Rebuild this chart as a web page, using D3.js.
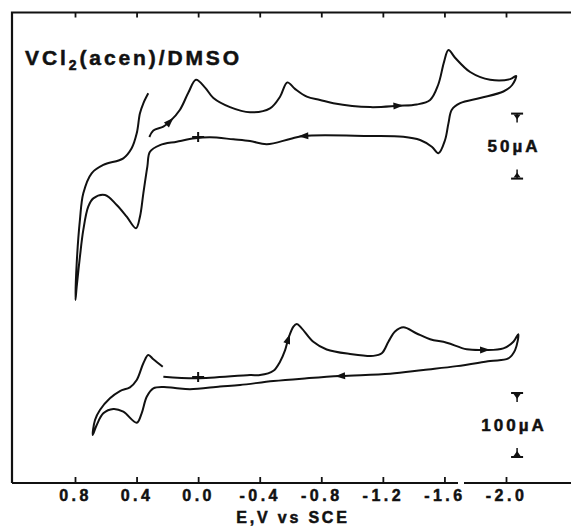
<!DOCTYPE html>
<html>
<head>
<meta charset="utf-8">
<script src="https://cdnjs.cloudflare.com/ajax/libs/d3/7.8.5/d3.min.js"></script>
<style>
body{margin:0;background:#fff;}
text{font-family:"Liberation Sans",Arial,sans-serif;font-weight:bold;fill:#111;stroke:#111;stroke-width:0.5px;}
</style>
</head>
<body>
<div id="chart"></div>
<script>
var tickValues=[0.8,0.4,0.0,-0.4,-0.8,-1.2,-1.6,-2.0];
var tickLabels=["0.8","0.4","0.0","-0.4","-0.8","-1.2","-1.6","-2.0"];

// upper voltammogram (50 uA scale): E in V vs SCE, I in uA
var topE=[0.317,0.291,0.226,0.183,0.118,0.064,0.014,-0.045,-0.099,-0.207,-0.337,-0.467,-0.532,-0.579,-0.629,-0.706,-0.792,-0.878,-1.117,-1.301,-1.420,-1.507,-1.559,-1.598,-1.626,-1.669,-1.767,-1.897,-2.027,-2.066,
  -2.040,-1.983,-1.832,-1.702,-1.648,-1.626,-1.604,-1.561,-1.518,-1.442,-1.333,-1.117,-0.683,-0.597,-0.446,-0.337,-0.229,-0.077,0.020,0.139,0.248,0.313,0.330,0.356,0.378,0.404,0.464,0.529,0.605,0.681,0.714,0.746,0.768,0.789,0.797,
  0.789,0.768,0.746,0.692,0.616,0.486,0.432,0.399,0.378,0.356,0.324];
var topI=[0,5,8,12,21,34,44,38,30,23,19,22,31,42,37,31,28.5,26,23,24,25,28.5,40,58,67,61,50,44,44.5,47,
  40,35,30,26,21,10.5,-2.3,-12.5,-7.5,-2.3,0.2,0.8,0.8,-1.5,-5.6,-3.1,-1.8,-0.2,-1,-3.6,-6.2,-11.3,-22.8,-43.3,-61.3,-70.2,-61.3,-52.3,-44.6,-47.2,-53.6,-71.5,-92.1,-115.2,-125.4,
  -97.2,-63.8,-43.3,-27.9,-21.5,-16.4,-8.7,2.8,18.2,25.9,33.6];
var topArrows=[3,19,42];

// lower voltammogram (100 uA scale)
var botE=[0.226,0.009,-0.337,-0.402,-0.489,-0.532,-0.565,-0.586,-0.619,-0.641,-0.673,-0.748,-0.835,-0.987,-1.138,-1.193,-1.236,-1.279,-1.333,-1.420,-1.507,-1.615,-1.745,-1.864,-1.983,-2.048,-2.080,
  -2.059,-2.015,-1.897,-1.680,-1.463,-1.247,-0.922,-0.706,-0.489,-0.272,-0.142,0.053,0.150,0.226,0.291,0.334,0.367,0.399,0.486,0.551,0.616,0.659,0.685,
  0.670,0.638,0.573,0.508,0.443,0.399,0.356,0.324,0.291,0.230];
var botI=[0.5,-2,3,3,9.8,24,42,60,78.6,82.8,76,55,43,36,33,37,55,71,77.7,68,59,53.6,43.3,42.2,44.8,55,67,
  42,29,25,17,11,5,1.6,-2,-6.3,-12.5,-15,-19,-17,-15.5,-17.7,-30.8,-56.7,-71.4,-54.2,-50,-56.7,-75,-90.6,
  -67.2,-51.6,-33.3,-21.9,-16.1,-4.7,21.4,34.4,27.7,16];
var botArrows=[7,23,33];

// current scale bars (uA) and their potential position
var topBar=[18,-32], botBar=[-25,-125];
var barE=-2.072;

var W=571,H=528;
var svg=d3.select("#chart").append("svg").attr("width",W).attr("height",H);
svg.append("rect").attr("width",W).attr("height",H).attr("fill","#fff");

var x=d3.scaleLinear().domain([0.8,-2.0]).range([75,506]);
var yTop=d3.scaleLinear().domain([0,50]).range([137,72]);
var yBot=d3.scaleLinear().domain([0,100]).range([377,313]);

// frame
var frame=svg.append("g").attr("stroke","#111").attr("stroke-width",2.2).attr("fill","none");
frame.append("path").attr("d","M12,483V12.5H571");
frame.append("path").attr("d","M12,483H458M464,483H571");

var topAxis=d3.axisTop(x).tickValues(tickValues).tickSize(-5).tickFormat("");
svg.append("g").attr("transform","translate(0,12.5)").call(topAxis)
  .call(function(g){g.select(".domain").remove();g.selectAll("line").attr("stroke","#111").attr("stroke-width",1.8);});

var botAxis=d3.axisBottom(x).tickValues(tickValues).tickSize(-6).tickPadding(7)
  .tickFormat(function(d,i){return tickLabels[i];});
svg.append("g").attr("transform","translate(0,483)").call(botAxis)
  .call(function(g){
    g.select(".domain").remove();
    g.selectAll("line").attr("stroke","#111").attr("stroke-width",1.8);
    g.selectAll("text").attr("font-size",16).attr("font-family","Liberation Sans, Arial, sans-serif")
      .attr("font-weight","bold").attr("fill","#111").style("letter-spacing","3.5px");
  });

svg.append("text").attr("x",293).attr("y",523).attr("text-anchor","middle").attr("font-size",16)
  .style("letter-spacing","2.8px").text("E,V vs SCE");

var title=svg.append("text").attr("x",25).attr("y",65).attr("font-size",21).style("letter-spacing","2.9px");
title.append("tspan").text("VCl");
title.append("tspan").attr("font-size",14).attr("dy",5).text("2");
title.append("tspan").attr("dy",-5).text("(acen)/DMSO");

function drawTrace(E,I,y,arrows){
  var pts=E.map(function(e,i){return [x(e),y(I[i])];});
  var line=d3.line().curve(d3.curveCatmullRom.alpha(0.5));
  svg.append("path").attr("d",line(pts)).attr("fill","none")
    .attr("stroke","#111").attr("stroke-width",2).attr("stroke-linejoin","round");
  arrows.forEach(function(k){
    var a=pts[k-1],b=pts[k+1];
    var ang=Math.atan2(b[1]-a[1],b[0]-a[0])*180/Math.PI;
    svg.append("path").attr("d","M5,0L-5,-3.5L-5,3.5Z").attr("fill","#111")
      .attr("transform","translate("+pts[k][0]+","+pts[k][1]+") rotate("+ang+")");
  });
  // zero-current mark at 0.0 V
  svg.append("path").attr("d","M"+(x(0)-6)+","+y(0)+"h12M"+x(0)+","+(y(0)-5)+"v10")
    .attr("stroke","#111").attr("stroke-width",2);
}
drawTrace(topE,topI,yTop,topArrows);
drawTrace(botE,botI,yBot,botArrows);

function scaleBar(bar,y,label){
  var bx=x(barE),y1=y(bar[0]),y2=y(bar[1]);
  var g=svg.append("g").attr("fill","#111").attr("stroke","#111");
  g.append("line").attr("x1",bx-6).attr("x2",bx+6).attr("y1",y1).attr("y2",y1).attr("stroke-width",2);
  g.append("path").attr("d","M"+(bx-3.5)+","+(y1+1)+"L"+(bx+3.5)+","+(y1+1)+"L"+bx+","+(y1+6)+"Z").attr("stroke","none");
  g.append("line").attr("x1",bx).attr("x2",bx).attr("y1",y1).attr("y2",y1+9).attr("stroke-width",1.5);
  g.append("line").attr("x1",bx-6).attr("x2",bx+6).attr("y1",y2).attr("y2",y2).attr("stroke-width",2);
  g.append("path").attr("d","M"+(bx-3.5)+","+(y2-1)+"L"+(bx+3.5)+","+(y2-1)+"L"+bx+","+(y2-6)+"Z").attr("stroke","none");
  g.append("line").attr("x1",bx).attr("x2",bx).attr("y1",y2).attr("y2",y2-9).attr("stroke-width",1.5);
  svg.append("text").attr("x",bx-3).attr("y",(y1+y2)/2+6).attr("text-anchor","middle")
    .attr("font-size",17).style("letter-spacing","3px").text(label);
}
scaleBar(topBar,yTop,"50µA");
scaleBar(botBar,yBot,"100µA");
</script>
</body>
</html>
